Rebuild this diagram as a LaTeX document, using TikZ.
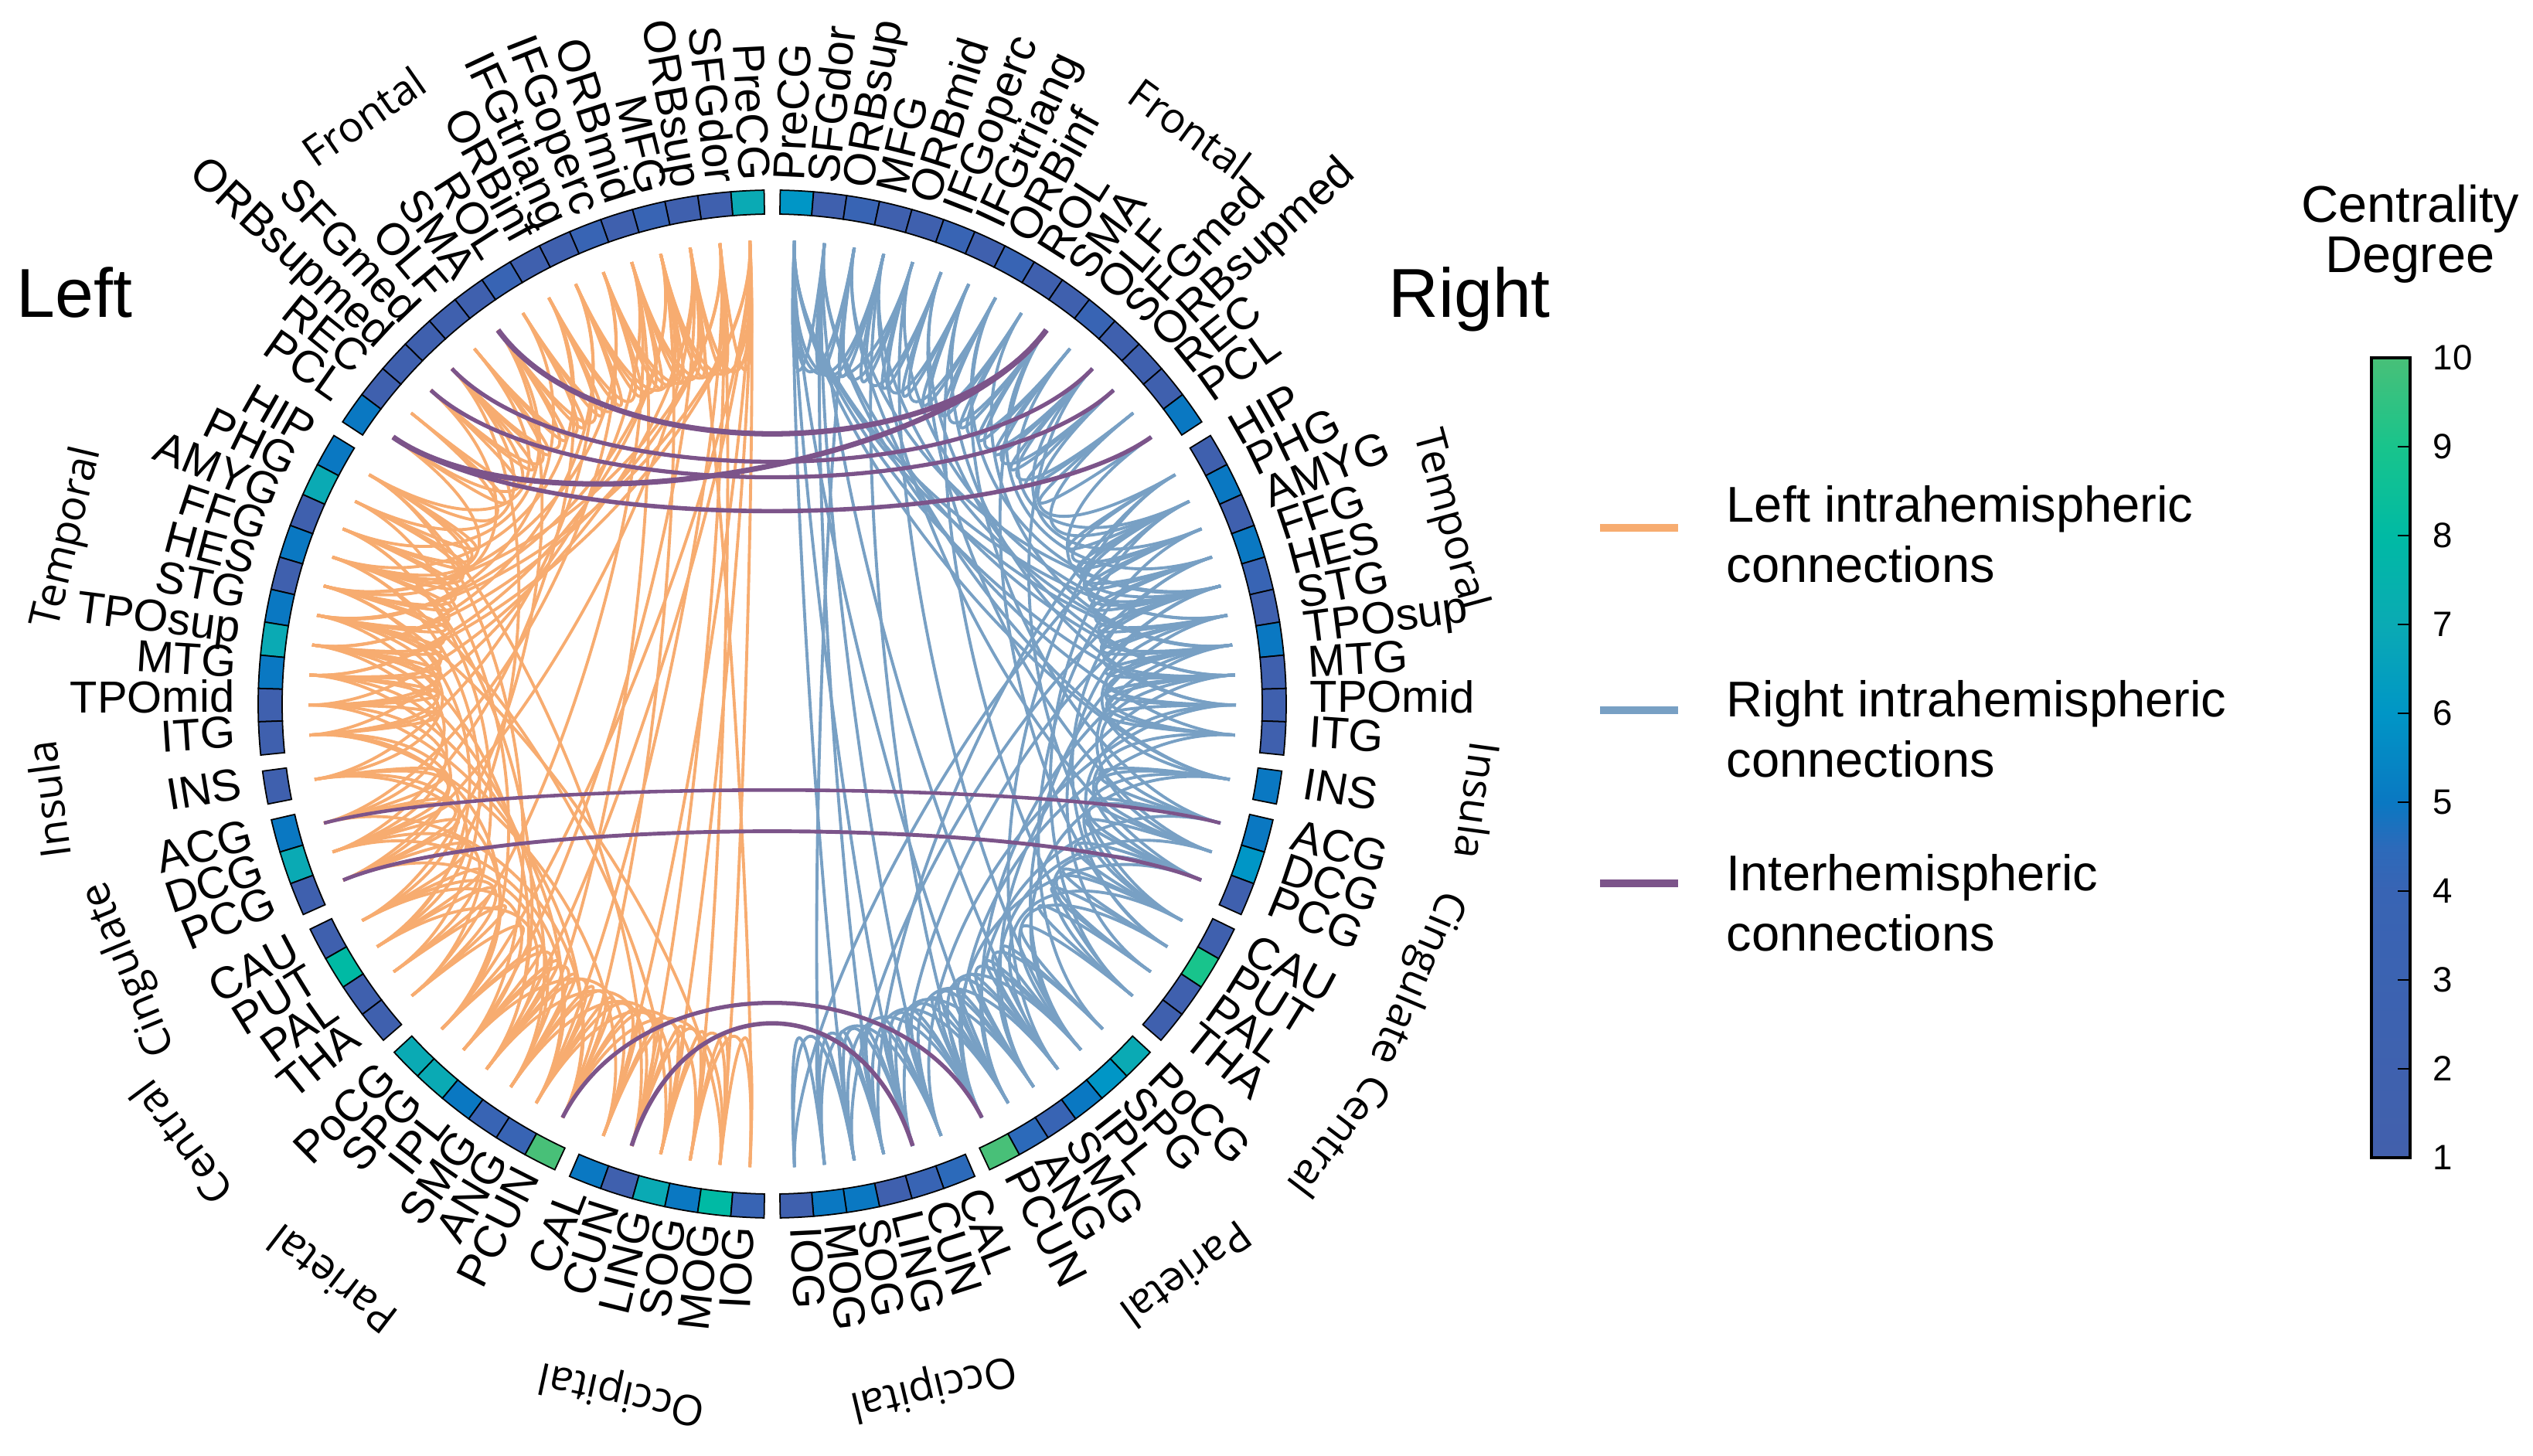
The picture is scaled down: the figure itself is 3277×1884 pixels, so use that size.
\documentclass[tikz,border=0pt]{standalone}
\usepackage{fontspec}
\setmainfont{Liberation Sans}
\newfontfamily\grpfont{Open Sans}
\usetikzlibrary{calc}
\definecolor{c1}{RGB}{66,96,172}
\definecolor{c2}{RGB}{63,96,174}
\definecolor{c3}{RGB}{56,100,180}
\definecolor{c4}{RGB}{44,106,186}
\definecolor{c5}{RGB}{10,120,194}
\definecolor{c6}{RGB}{0,150,198}
\definecolor{c7}{RGB}{10,170,180}
\definecolor{c8}{RGB}{0,186,164}
\definecolor{c9}{RGB}{24,196,140}
\definecolor{c10}{RGB}{72,192,120}
\definecolor{orgc}{RGB}{247,172,112}
\definecolor{bluc}{RGB}{120,160,196}
\definecolor{purc}{RGB}{124,84,138}
\pgfdeclareverticalshading{cbar}{100bp}{color(0bp)=(c1); color(25bp)=(c1); color(41.7bp)=(c3); color(44.4bp)=(c4); color(47.2bp)=(c5); color(52.8bp)=(c6); color(58.3bp)=(c7); color(63.9bp)=(c8); color(69.4bp)=(c9); color(75bp)=(c10); color(100bp)=(c10)}
\tikzset{
  seg/.style={draw=black, line width=0.5pt},
  lab/.style={inner sep=0pt, font=\fontsize{16.5}{16.5}\selectfont},
  grp/.style={inner sep=0pt, font=\grpfont\fontsize{15.5}{16}\selectfont},
  lch/.style={draw=orgc, line width=1.1pt},
  rch/.style={draw=bluc, line width=1.1pt},
  ich/.style={draw=purc},
  legline/.style={line width=3.1pt},
  legtext/.style={inner sep=0pt, anchor=west, align=left, font=\fontsize{18.5}{22.2}\selectfont},
  tick/.style={inner sep=0pt, anchor=west, font=\fontsize{13}{13}\selectfont},
}
\begin{document}
\begin{tikzpicture}[x=0.1mm,y=0.1mm]
\useasboundingbox (-999,-973) rectangle (2278,911);
\coordinate (O) at (0,0);
% ---------------- ring, anchors and labels ----------------
\foreach \i/\nm/\k/\vl/\vr in {
1/PreCG/0/7/6, 2/SFGdor/0/2/2, 3/ORBsup/0/2/3, 4/MFG/0/3/2, 5/ORBmid/0/2/2,
6/IFGoperc/0/3/3, 7/IFGtriang/0/2/2, 8/ORBinf/0/2/3, 9/ROL/0/3/2, 10/SMA/0/2/2,
11/OLF/0/2/3, 12/SFGmed/0/2/2, 13/ORBsupmed/0/2/2, 14/REC/0/2/2, 15/PCL/0/5/5,
16/HIP/1/5/2, 17/PHG/1/7/5, 18/AMYG/1/2/2, 19/FFG/1/5/5, 20/HES/1/2/3,
21/STG/1/5/2, 22/TPOsup/1/7/5, 23/MTG/1/5/2, 24/TPOmid/1/2/2, 25/ITG/1/2/2,
26/INS/2/2/5,
27/ACG/3/5/5, 28/DCG/3/7/6, 29/PCG/3/2/2,
30/CAU/4/2/2, 31/PUT/4/8/9, 32/PAL/4/2/2, 33/THA/4/2/2,
34/PoCG/5/7/7, 35/SPG/5/7/6, 36/IPL/5/5/5, 37/SMG/5/3/3, 38/ANG/5/3/4, 39/PCUN/5/10/10,
40/CAL/6/5/4, 41/CUN/6/2/3, 42/LING/6/7/2, 43/SOG/6/5/5, 44/MOG/6/8/5, 45/IOG/6/3/2}{
  \pgfmathsetmacro\t{0.9+(\i-0.5)*3.72+\k*1.8}
  \pgfmathsetmacro\thL{90+\t}
  \pgfmathsetmacro\thR{90-\t}
  \pgfmathsetmacro\aL{\thL-1.86}
  \pgfmathsetmacro\bL{\thL+1.86}
  \pgfmathsetmacro\aR{\thR-1.86}
  \pgfmathsetmacro\bR{\thR+1.86}
  \pgfmathsetmacro\rotL{\thL+180}
  \pgfmathsetmacro\lr{695-18*cos(\t)^2}
  \filldraw[seg, fill=c\vl] (\aL:634) arc[start angle=\aL, end angle=\bL, radius=634] -- (\bL:665) arc[start angle=\bL, end angle=\aL, radius=665] -- cycle;
  \filldraw[seg, fill=c\vr] (\aR:634) arc[start angle=\aR, end angle=\bR, radius=634] -- (\bR:665) arc[start angle=\bR, end angle=\aR, radius=665] -- cycle;
  \coordinate (L\i) at (\thL:600);
  \coordinate (R\i) at (\thR:600);
  \node[lab, anchor=mid east, rotate=\rotL] (LN\i) at (\thL:\lr) {\nm};
  \node[lab, anchor=mid west, rotate=\thR] (RN\i) at (\thR:\lr) {\nm};
}
% ---------------- left intrahemispheric ----------------
\foreach \a/\b in {
1/2,1/3,1/4,2/3,2/4,2/5,3/4,3/5,3/6,4/5,4/6,4/7,5/6,5/7,6/7,6/8,7/8,7/9,8/9,8/10,9/10,9/11,10/11,10/12,11/12,11/13,12/13,13/14,14/15,12/15,
1/21,1/23,2/22,3/24,4/21,5/25,6/20,7/22,8/19,9/21,10/18,11/16,12/17,13/20,14/16,15/19,2/20,4/23,
1/40,1/42,1/44,2/41,2/43,3/45,1/36,2/38,4/39,5/37,3/35,1/34,
6/27,8/28,10/30,12/31,3/29,5/33,7/26,
16/17,16/18,17/18,17/19,18/19,18/20,19/20,19/21,20/21,20/22,21/22,21/23,22/23,22/24,23/24,23/25,24/25,16/19,21/24,22/25,
21/26,22/27,23/28,24/29,25/30,20/31,19/32,18/33,17/34,16/35,21/36,22/37,23/38,24/39,25/40,19/42,20/44,16/41,18/36,25/34,
26/27,26/28,27/28,28/29,27/29,29/30,30/31,31/32,32/33,30/33,26/31,28/32,
33/34,34/35,34/36,35/36,35/37,36/37,36/38,37/38,37/39,38/39,38/40,39/40,39/41,40/41,40/42,41/42,41/43,42/43,42/44,43/44,43/45,44/45,35/40,36/41,37/42,38/43,39/44,
30/35,31/36,29/37,28/38,27/39,26/34}{
  \draw[lch] (L\a) .. controls ($0.63*(L\a)$) and ($0.63*(L\b)$) .. (L\b);
}
% ---------------- right intrahemispheric ----------------
\foreach \a/\b in {
1/2,1/3,1/4,1/5,2/3,2/4,3/4,3/5,4/5,4/6,5/6,5/7,6/7,6/8,7/8,7/9,8/9,8/10,9/10,9/11,10/11,10/12,11/12,11/13,12/13,12/14,13/14,14/15,
1/21,1/22,1/24,2/23,2/25,3/20,4/22,5/21,6/23,7/24,8/20,9/22,10/19,11/17,12/18,13/16,14/17,15/20,3/26,1/26,
1/41,1/43,2/40,2/42,3/44,1/38,2/36,4/39,5/35,
6/28,8/27,10/31,12/30,4/29,7/33,
16/17,16/18,17/18,17/19,18/19,18/20,19/20,19/21,20/21,20/22,21/22,21/23,22/23,22/24,23/24,23/25,24/25,17/20,20/23,22/25,
21/26,22/28,23/27,24/30,25/29,20/32,19/31,18/34,17/33,16/36,21/35,22/38,23/37,24/40,25/39,19/43,20/41,16/42,17/45,
26/27,26/28,27/28,28/29,27/29,29/30,30/31,31/32,32/33,30/32,26/30,29/33,
33/34,34/35,34/36,35/36,35/37,36/37,36/38,37/38,37/39,38/39,38/40,39/40,39/41,40/41,40/42,41/42,41/43,42/43,42/44,43/44,43/45,44/45,35/39,36/40,37/41,38/42,39/43,40/44,
30/36,31/35,28/37,27/38,29/39,26/35}{
  \draw[rch] (R\a) .. controls ($0.63*(R\a)$) and ($0.63*(R\b)$) .. (R\b);
}
% ---------------- interhemispheric ----------------
\foreach \a/\b/\lw in {10/10/2.0, 12/12/1.5, 13/13/1.5, 15/15/1.6, 15/10/2.0, 27/27/1.3, 29/29/1.4, 39/39/1.5, 41/41/1.6}{
  \draw[ich, line width=\lw pt] (L\a) .. controls ($0.63*(L\a)$) and ($0.63*(R\b)$) .. (R\b);
}
% ---------------- group labels ----------------
\node[grp, rotate=34.8] (gFL) at (124.8:926) {Frontal};
\node[grp, rotate=-36] (gFR) at (54:920) {Frontal};
\node[grp, rotate=76.7] (gTL) at (166.7:936) {Temporal};
\node[grp, rotate=-74.8] (gTR) at (15.2:907) {Temporal};
\node[grp, rotate=97.5] (gIL) at (187.5:945) {Insula};
\node[grp, rotate=-97.8] (gIR) at (-7.8:922) {Insula};
\node[grp, rotate=112.4] (gCL) at (202.4:899) {Cingulate};
\node[grp, rotate=-113] (gCR) at (-23:905) {Cingulate};
\node[grp, rotate=126.6] (gCeL) at (216.6:953) {Central};
\node[grp, rotate=-127.3] (gCeR) at (-37.3:925) {Central};
\node[grp, rotate=142.6] (gPL) at (232.6:938) {Parietal};
\node[grp, rotate=-144] (gPR) at (-54:913) {Parietal};
\node[grp, rotate=167.7] (gOL) at (257.7:911) {Occipital};
\node[grp, rotate=-166.7] (gOR) at (-76.7:907) {Occipital};
% ---------------- hemisphere titles ----------------
\node[inner sep=0pt, anchor=base west, font=\fontsize{25.5}{26}\selectfont] (left) at (-978,500) {Left};
\node[inner sep=0pt, anchor=base west, font=\fontsize{25.5}{26}\selectfont] (right) at (797,500) {Right};
% ---------------- legend ----------------
\coordinate (la1) at (1071,228); \coordinate (lb1) at (1172,228);
\coordinate (la2) at (1071,-8); \coordinate (lb2) at (1172,-8);
\coordinate (la3) at (1071,-232); \coordinate (lb3) at (1172,-232);
\draw[legline, orgc] (la1) -- (lb1);
\draw[legline, bluc] (la2) -- (lb2);
\draw[legline, purc] (la3) -- (lb3);
\node[legtext] (lt1) at (1234,219.5) {Left intrahemispheric\\connections};
\node[legtext] (lt2) at (1234,-32.5) {Right intrahemispheric\\connections};
\node[legtext] (lt3) at (1234,-257.5) {Interhemispheric\\connections};
% ---------------- colour bar ----------------
\node[inner sep=0pt, align=center, font=\fontsize{19}{18.5}\selectfont] (cbt) at (2119,608) {Centrality\\Degree};
\shade[shading=cbar] (2069,-587) rectangle (2119,448);
\draw[line width=0.9pt] (2069,-587) rectangle (2119,448);
\foreach \v in {2,...,9}{
  \draw[line width=0.7pt] (2103,{-587+(\v-1)*115}) -- (2119,{-587+(\v-1)*115});
}
\foreach \v in {1,...,10}{
  \node[tick] (tk\v) at (2148,{-587+(\v-1)*115}) {\v};
}
\end{tikzpicture}
\end{document}
